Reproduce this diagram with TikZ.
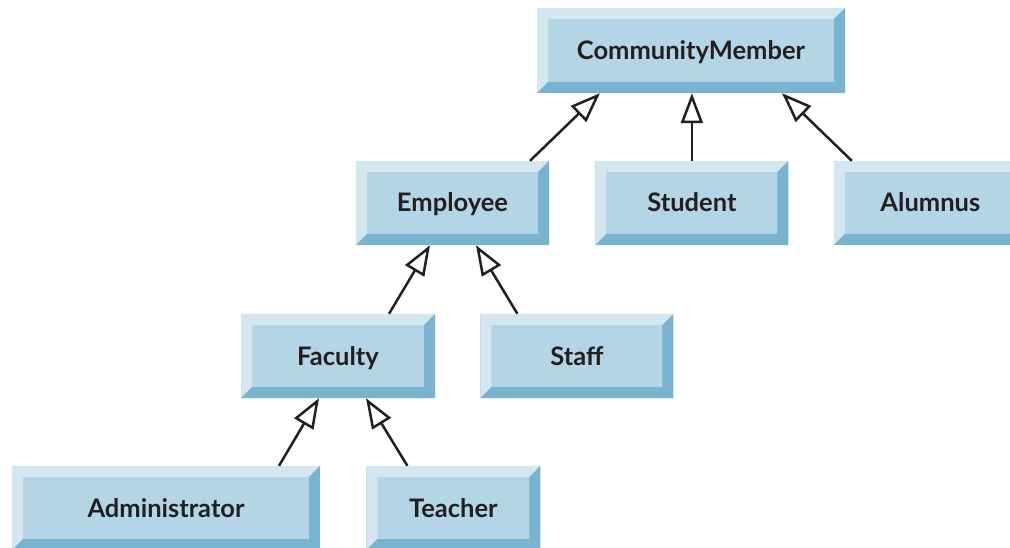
\documentclass[tikz,border=0pt]{standalone}
\usepackage{fontspec}
\setmainfont{Lato}
\usetikzlibrary{arrows.meta, positioning}

\definecolor{boxface}{HTML}{B4D5E5}
\definecolor{boxlite}{HTML}{D4E6F0}
\definecolor{boxdark}{HTML}{78B4D0}
\definecolor{inkcol}{HTML}{231F20}

\tikzset{
	bevel/.style={
		rectangle, inner sep=0pt, minimum height=84pt, fill=boxface,
		font=\fontsize{25.5}{30}\selectfont\bfseries, text=inkcol,
		text height=18pt, text depth=0pt,
		path picture={
			\fill[boxlite] (path picture bounding box.south west)
				-- ([shift={(11pt,11pt)}]path picture bounding box.south west)
				|- ([shift={(-11pt,-11pt)}]path picture bounding box.north east)
				-- (path picture bounding box.north east)
				-- (path picture bounding box.north west) -- cycle;
			\fill[boxdark] (path picture bounding box.south west)
				-- (path picture bounding box.south east)
				-- (path picture bounding box.north east)
				-- ([shift={(-11pt,-11pt)}]path picture bounding box.north east)
				|- ([shift={(11pt,11pt)}]path picture bounding box.south west) -- cycle;
		}},
	inherits/.style={-{Triangle[fill=white, length=30pt, width=22pt]}, line width=2.5pt, color=inkcol}
}

\begin{document}
\begin{tikzpicture}[x=1pt, y=-1pt]
		\clip (0,0) rectangle (1010,548);
		\fill[white] (0,0) rectangle (1010,548);

		\node (member) [bevel, minimum width=308pt, minimum height=85pt] at (691,50.5) {CommunityMember};
		\node (employee) [bevel, minimum width=193pt] at (452.5,203) {Employee};
		\node (student) [bevel, minimum width=193pt, right = 46pt of employee] {Student};
		\node (alumnus) [bevel, minimum width=193pt, right = 45pt of student] {Alumnus};
		\node (faculty) [bevel, minimum width=194pt] at (338,356) {Faculty};
		\node (staff) [bevel, minimum width=193pt, right = 45pt of faculty] {Staff};
		\node (admin) [bevel, minimum width=308pt] at (166,508) {Administrator};
		\node (teacher) [bevel, minimum width=174pt, right = 46pt of admin] {Teacher};

		% generalisation arrows, child to parent
		\path [inherits]
		([xshift=77.5pt]employee.north) edge ([xshift=-91pt]member.south)
		(student.north) edge (student.north |- member.south)
		([xshift=-78.5pt]alumnus.north) edge ([xshift=91pt]member.south)
		([xshift=51pt]faculty.north) edge ([xshift=-22.5pt]employee.south)
		([xshift=-59.5pt]staff.north) edge ([xshift=23.5pt]employee.south)
		([xshift=113pt]admin.north) edge ([xshift=-19pt]faculty.south)
		([xshift=-46pt]teacher.north) edge ([xshift=28pt]faculty.south)
		;
	\end{tikzpicture}
\end{document}
